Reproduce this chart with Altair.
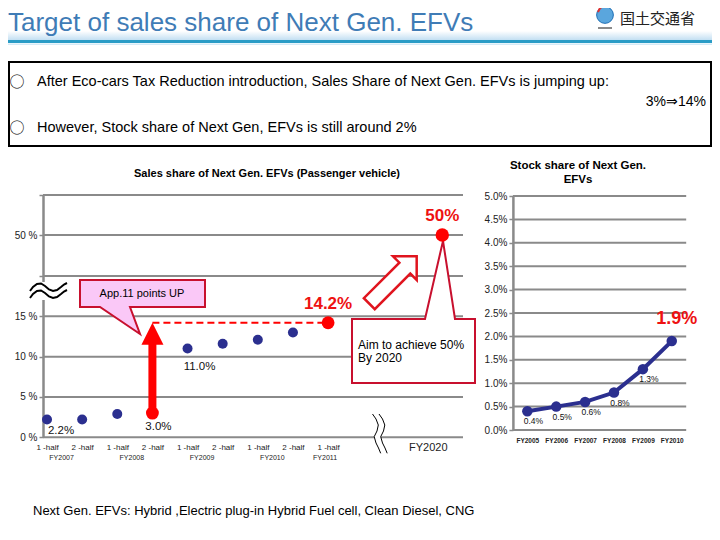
import altair as alt
import pandas as pd

# ---------------- data ----------------
half_labels = ["1 -half", "2 -half", "1 -half", "2 -half", "1 -half",
               "2 -half", "1 -half", "2 -half", "1 -half"]
half_fiscal_year = ["FY2007", "FY2007", "FY2008", "FY2008", "FY2009",
                    "FY2009", "FY2010", "FY2010", "FY2011"]
sales_share = [2.2, 2.2, 2.9, 3.0, 11.0, 11.6, 12.1, 13.0, 14.2]
target_year = "FY2020"
target_share = 50
stock_years = ["FY2005", "FY2006", "FY2007", "FY2008", "FY2009", "FY2010"]
stock_share = [0.4, 0.5, 0.6, 0.8, 1.3, 1.9]
left_ticks = [0, 5, 10, 15, 20, 50, 60]
right_ticks = [0.0, 0.5, 1.0, 1.5, 2.0, 2.5, 3.0, 3.5, 4.0, 4.5, 5.0]

BEFORE = 3   # 2nd half FY2008 (before tax reduction)
LATEST = 8   # 1st half FY2011
TARGET_POS = 11.25  # position of FY2020 after the axis break

# ---------------- layout helpers ----------------
W, H = 704, 524
FONT = "Liberation Sans"
GRID = "#8a8a8a"
NAVY = "#2b2f8f"
RED = "#ff0000"
TRED = "#ee1111"
DRED = "#c8102e"


def S(v):
    return v - 8


ONE = pd.DataFrame({"d": [0]})


def one():
    return alt.Chart(ONE)


def txt(text, x, y, size=12, weight="normal", color="black", align="left",
        font=FONT, baseline="middle", **kw):
    return one().mark_text(text=text, fontSize=size, fontWeight=weight,
                           color=color, align=align, font=font,
                           baseline=baseline, **kw).encode(
        x=alt.value(S(x)), y=alt.value(S(y)))


def rect(x1, y1, x2, y2, fill, stroke=None, sw=0):
    kw = dict(fill=fill, opacity=1)
    if stroke:
        kw.update(stroke=stroke, strokeWidth=sw)
    return one().mark_rect(**kw).encode(
        x=alt.value(S(x1)), x2=alt.value(S(x2)),
        y=alt.value(S(y1)), y2=alt.value(S(y2)))


def poly(subpaths, fill=None, stroke="black", sw=1.0):
    pts = [p for sp, _ in subpaths for p in sp]
    xs = [p[0] for p in pts]
    ys = [p[1] for p in pts]
    cx, cy = (min(xs) + max(xs)) / 2, (min(ys) + max(ys)) / 2
    h = max(max(xs) - min(xs), max(ys) - min(ys)) / 2
    path = ""
    for sp, closed in subpaths:
        path += "M" + " L".join(f"{(x - cx) / h:.4f},{(y - cy) / h:.4f}" for x, y in sp)
        if closed:
            path += " Z"
        path += " "
    kw = dict(shape=path.strip(), size=(2 * h) ** 2, opacity=1, strokeJoin="miter")
    if fill:
        kw.update(filled=True, fill=fill)
    else:
        kw.update(filled=False, fill="transparent")
    if stroke:
        kw.update(stroke=stroke, strokeWidth=sw)
    else:
        kw.update(strokeWidth=0)
    return one().mark_point(**kw).encode(x=alt.value(S(cx)), y=alt.value(S(cy)))


# ---------------- scales ----------------
LX_DOM = [-0.114, 11.84]
lx = alt.Scale(domain=LX_DOM, range=[S(43), S(463)], nice=False, zero=False)
ly = alt.Scale(domain=[0, 20, 50, 60], range=[S(437.3), S(276), S(235), S(195)],
               nice=False, zero=False)
RX_DOM = [-0.5, 5.5]
rx = alt.Scale(domain=RX_DOM, range=[S(512.9), S(686.2)], nice=False, zero=False)
ry = alt.Scale(domain=[0, 5], range=[S(430), S(196)], nice=False, zero=False)

# ---------------- data frames ----------------
df_left = pd.DataFrame({"i": list(range(len(sales_share))), "v": sales_share,
                        "half": half_labels, "fy": half_fiscal_year})
df_left["txt"] = df_left["v"].map(lambda v: f"{v:.1f}%")
df_fy = df_left.groupby("fy", as_index=False)["i"].mean()
df_target = pd.DataFrame({"i": [TARGET_POS], "v": [target_share],
                          "txt": [f"{target_share}%"]})
df_red_lbl = pd.concat([df_left[df_left.i == LATEST][["i", "v", "txt"]], df_target])
df_right = pd.DataFrame({"i": list(range(len(stock_share))), "v": stock_share,
                         "year": stock_years})
df_right["txt"] = df_right["v"].map(lambda v: f"{v:.1f}%")

half_expr = "[" + ",".join(f"'{h}'" for h in half_labels) + "][datum.value]"
year_expr = "[" + ",".join(f"'{y}'" for y in stock_years) + "][datum.value]"

layers = []

# ---------------- header ----------------
layers.append(one().mark_rect(fill=alt.Gradient(
    gradient="linear", x1=0, x2=0, y1=0, y2=1,
    stops=[alt.GradientStop(color="#ffffff", offset=0),
           alt.GradientStop(color="#c3dff2", offset=1)])).encode(
    x=alt.value(0), x2=alt.value(W), y=alt.value(S(31)), y2=alt.value(S(40))))
layers.append(rect(0, 40, 720, 43, "#2b9cc6"))
layers.append(rect(0, 43.5, 720, 45, "#d5ebf7"))
layers.append(txt("Target of sales share of Next Gen. EFVs", 8, 23, size=26,
                  color="#3f7cb6"))
layers.append(one().mark_circle(size=280, color="#5aa6dd", opacity=1,
                                stroke="#1f6fb5", strokeWidth=1).encode(
    x=alt.value(S(605)), y=alt.value(S(15))))
layers.append(poly([([(598, 12), (600, 8), (604, 6), (608, 6.5)], False)],
                   stroke="#e03030", sw=2))
layers.append(rect(598, 27, 612, 29, "#8a8a8a"))
layers.append(txt("国土交通省", 620, 19, size=15, font="Noto Sans CJK JP",
                  color="#222222"))

# ---------------- info box ----------------
layers.append(rect(9, 62, 711, 146, "white", stroke="black", sw=2))
layers.append(txt("○", 17, 82, size=15, align="center", font="Noto Sans CJK JP"))
layers.append(txt("After Eco-cars Tax Reduction introduction, Sales Share of Next Gen. EFVs is jumping up:",
                  37, 82, size=14.5))
layers.append(txt("3%⇒14%", 706, 102, size=14, align="right"))
layers.append(txt("○", 17, 128, size=15, align="center", font="Noto Sans CJK JP"))
layers.append(txt("However, Stock share of Next Gen, EFVs is still around 2%",
                  37, 128, size=14.5))

# ---------------- chart titles ----------------
layers.append(txt("Sales share of Next Gen. EFVs (Passenger vehicle)", 267, 174,
                  size=11, weight="bold", align="center"))
layers.append(txt("Stock share of Next Gen.\nEFVs", 578, 166, size=11.5,
                  weight="bold", align="center", lineBreak="\n", baseline="middle"))

# ---------------- left chart: grid + y axis ----------------
layers.append(alt.Chart(pd.DataFrame({"g": left_ticks})).mark_rule(
    color=GRID, strokeWidth=2).encode(
    y=alt.Y("g:Q", scale=ly, axis=alt.Axis(
        orient="left", offset=-S(43), values=left_ticks,
        labelExpr="(datum.value == 20 || datum.value == 60) ? '' : datum.value + ' %'",
        grid=False, domainColor=GRID, domainWidth=2.5, tickColor=GRID,
        tickSize=4, tickWidth=1.5, labelFont=FONT, labelFontSize=10,
        labelColor="#222222", labelPadding=2, title=None)),
    x=alt.XDatum(LX_DOM[0], type="quantitative", scale=lx, axis=None),
    x2=alt.X2Datum(LX_DOM[1])))

# axis break (wave) at the left axis
layers.append(rect(38, 282, 48, 300, "white"))
wave = [(30, 291), (33, 287), (37, 284), (41, 283.5), (45, 286), (49, 289.5),
        (53, 291), (57, 290), (61, 287), (64, 284.5), (67, 283)]
layers.append(poly([(wave, False), ([(x, y + 7) for x, y in wave], False)],
                   stroke="black", sw=2))

# axis break on the x axis
curve = [(372.5, 414), (376, 419), (378.3, 425), (377, 431), (374.2, 436.7),
         (376, 443), (378.5, 448), (380.7, 453.3)]
curve2 = [(x + 6.5, y) for x, y in curve]
layers.append(poly([(curve + curve2[::-1], True)], fill="white", stroke=None))
layers.append(poly([(curve, False), (curve2, False)], stroke="black", sw=1))

# ---------------- callouts ----------------
layers.append(poly([([(80, 280), (205, 280), (205, 307), (130, 307), (140, 334),
                      (100, 307), (80, 307)], True)],
                   fill="#fac8f7", stroke=DRED, sw=2))
layers.append(txt("App.11 points UP", 142, 294, size=11, align="center"))

layers.append(poly([([(352, 319), (425, 319), (443, 241), (455, 319), (475, 319),
                      (475, 383), (352, 383)], True)],
                   fill="white", stroke=DRED, sw=2))
layers.append(txt("Aim to achieve 50%", 358, 345, size=12))
layers.append(txt("By 2020", 358, 358, size=12))

# hollow block arrow pointing to the target
layers.append(one().mark_point(
    shape="M0,-1 L0.5,-0.5 L0.23,-0.5 L0.23,1 L-0.23,1 L-0.23,-0.5 L-0.5,-0.5 Z",
    size=67 ** 2, angle=45, filled=True, fill="white", stroke="#e0141e",
    strokeWidth=2.5, opacity=1, strokeJoin="miter").encode(
    x=alt.value(S(393)), y=alt.value(S(280))))

# ---------------- left chart: data ----------------
layers.append(alt.Chart(pd.DataFrame({"i": [BEFORE], "i2": [LATEST],
                                      "v": [sales_share[LATEST]]})).mark_rule(
    color=RED, strokeWidth=2, strokeDash=[7, 4]).encode(
    x=alt.X("i:Q", scale=lx, axis=None), x2="i2:Q",
    y=alt.Y("v:Q", scale=ly, axis=None)))

layers.append(alt.Chart(df_left).mark_circle(size=100, color=NAVY, opacity=1).encode(
    x=alt.X("i:Q", scale=lx, axis=alt.Axis(
        orient="bottom", offset=-(H - S(437.3)), values=list(range(len(half_labels))),
        labelExpr=half_expr, domain=False, ticks=False, tickSize=0, grid=False,
        labelFont=FONT, labelFontSize=8, labelPadding=6, labelColor="#222222",
        title=None)),
    y=alt.Y("v:Q", scale=ly, axis=None)))

# big red arrow from 3.0% to 14.2%
layers.append(alt.Chart(pd.DataFrame({"i": [BEFORE], "v": [sales_share[BEFORE]],
                                      "v2": [12.0]})).mark_rule(
    color=RED, strokeWidth=8).encode(
    x=alt.X("i:Q", scale=lx, axis=None),
    y=alt.Y("v:Q", scale=ly, axis=None), y2="v2:Q"))
layers.append(alt.Chart(pd.DataFrame({"i": [BEFORE], "v": [sales_share[LATEST]]})).mark_point(
    shape="M0,0 L1,2 L-1,2 Z", size=22 ** 2, filled=True, fill=RED,
    strokeWidth=0, opacity=1).encode(
    x=alt.X("i:Q", scale=lx, axis=None), y=alt.Y("v:Q", scale=ly, axis=None)))

layers.append(alt.Chart(df_left).transform_filter(
    f"datum.i == {BEFORE} || datum.i == {LATEST}").mark_circle(
    size=165, color=RED, opacity=1).encode(
    x=alt.X("i:Q", scale=lx, axis=None), y=alt.Y("v:Q", scale=ly, axis=None)))
layers.append(alt.Chart(df_target).mark_circle(size=180, color=RED, opacity=1).encode(
    x=alt.X("i:Q", scale=lx, axis=None), y=alt.Y("v:Q", scale=ly, axis=None)))

for idx, dx, dy in [(0, 14, 11), (BEFORE, 6, 14), (4, 12, 18)]:
    layers.append(alt.Chart(df_left).transform_filter(f"datum.i == {idx}").mark_text(
        fontSize=11.5, font=FONT, dx=dx, dy=dy, align="center", baseline="middle",
        color="#111111").encode(
        x=alt.X("i:Q", scale=lx, axis=None), y=alt.Y("v:Q", scale=ly, axis=None),
        text="txt:N"))

layers.append(alt.Chart(df_red_lbl).mark_text(
    fontSize=17, fontWeight="bold", font=FONT, dy=-19, align="center",
    baseline="middle", color=TRED).encode(
    x=alt.X("i:Q", scale=lx, axis=None), y=alt.Y("v:Q", scale=ly, axis=None),
    text="txt:N"))

layers.append(alt.Chart(df_fy).mark_text(
    fontSize=7, font=FONT, dx=-3, align="center", baseline="middle",
    color="#222222").encode(
    x=alt.X("i:Q", scale=lx, axis=None), y=alt.value(S(458)), text="fy:N"))
layers.append(alt.Chart(df_target.assign(lbl=[target_year])).mark_text(
    fontSize=11, font=FONT, dx=-14, align="center", baseline="middle",
    color="#222222").encode(
    x=alt.X("i:Q", scale=lx, axis=None), y=alt.value(S(448)), text="lbl:N"))

# ---------------- right chart ----------------
layers.append(alt.Chart(pd.DataFrame({"g": right_ticks})).mark_rule(
    color=GRID, strokeWidth=2).encode(
    y=alt.Y("g:Q", scale=ry, axis=alt.Axis(
        orient="left", offset=-S(512.9), values=right_ticks,
        labelExpr="format(datum.value, '.1f') + '%'",
        grid=False, domainColor=GRID, domainWidth=2.5, tickColor=GRID,
        tickSize=4, tickWidth=1.5, labelFont=FONT, labelFontSize=10,
        labelColor="#222222", labelPadding=2, title=None)),
    x=alt.XDatum(RX_DOM[0], type="quantitative", scale=rx, axis=None),
    x2=alt.X2Datum(RX_DOM[1])))

layers.append(alt.Chart(df_right).mark_line(color=NAVY, strokeWidth=4).encode(
    x=alt.X("i:Q", scale=rx, axis=alt.Axis(
        orient="bottom", offset=-(H - S(430)), values=list(range(len(stock_years))),
        labelExpr=year_expr, domain=False, ticks=False, tickSize=0, grid=False,
        labelFont=FONT, labelFontSize=6.5, labelFontWeight="bold", labelPadding=7,
        labelColor="#222222", title=None)),
    y=alt.Y("v:Q", scale=ry, axis=None)))
layers.append(alt.Chart(df_right).mark_circle(size=110, color=NAVY, opacity=1).encode(
    x=alt.X("i:Q", scale=rx, axis=None), y=alt.Y("v:Q", scale=ry, axis=None)))
layers.append(alt.Chart(df_right).transform_filter(
    f"datum.i < {len(stock_share) - 1}").mark_text(
    fontSize=8.5, font=FONT, dx=6, dy=10, align="center", baseline="middle",
    color="#111111").encode(
    x=alt.X("i:Q", scale=rx, axis=None), y=alt.Y("v:Q", scale=ry, axis=None),
    text="txt:N"))
layers.append(alt.Chart(df_right).transform_filter(
    f"datum.i == {len(stock_share) - 1}").mark_text(
    fontSize=18, fontWeight="bold", font=FONT, dx=5, dy=-22, align="center",
    baseline="middle", color=TRED).encode(
    x=alt.X("i:Q", scale=rx, axis=None), y=alt.Y("v:Q", scale=ry, axis=None),
    text="txt:N"))

# ---------------- footer ----------------
layers.append(txt("Next Gen. EFVs: Hybrid ,Electric plug-in Hybrid Fuel cell, Clean Diesel, CNG",
                  33, 511, size=13))

chart = alt.layer(*layers).resolve_scale(
    x="independent", y="independent"
).properties(
    width=W, height=H, padding=0, autosize=alt.AutoSizeParams(type="none"),
    background="white"
).configure_view(stroke=None)

chart.save("out.html", embed_options={"renderer": "svg", "actions": False})
